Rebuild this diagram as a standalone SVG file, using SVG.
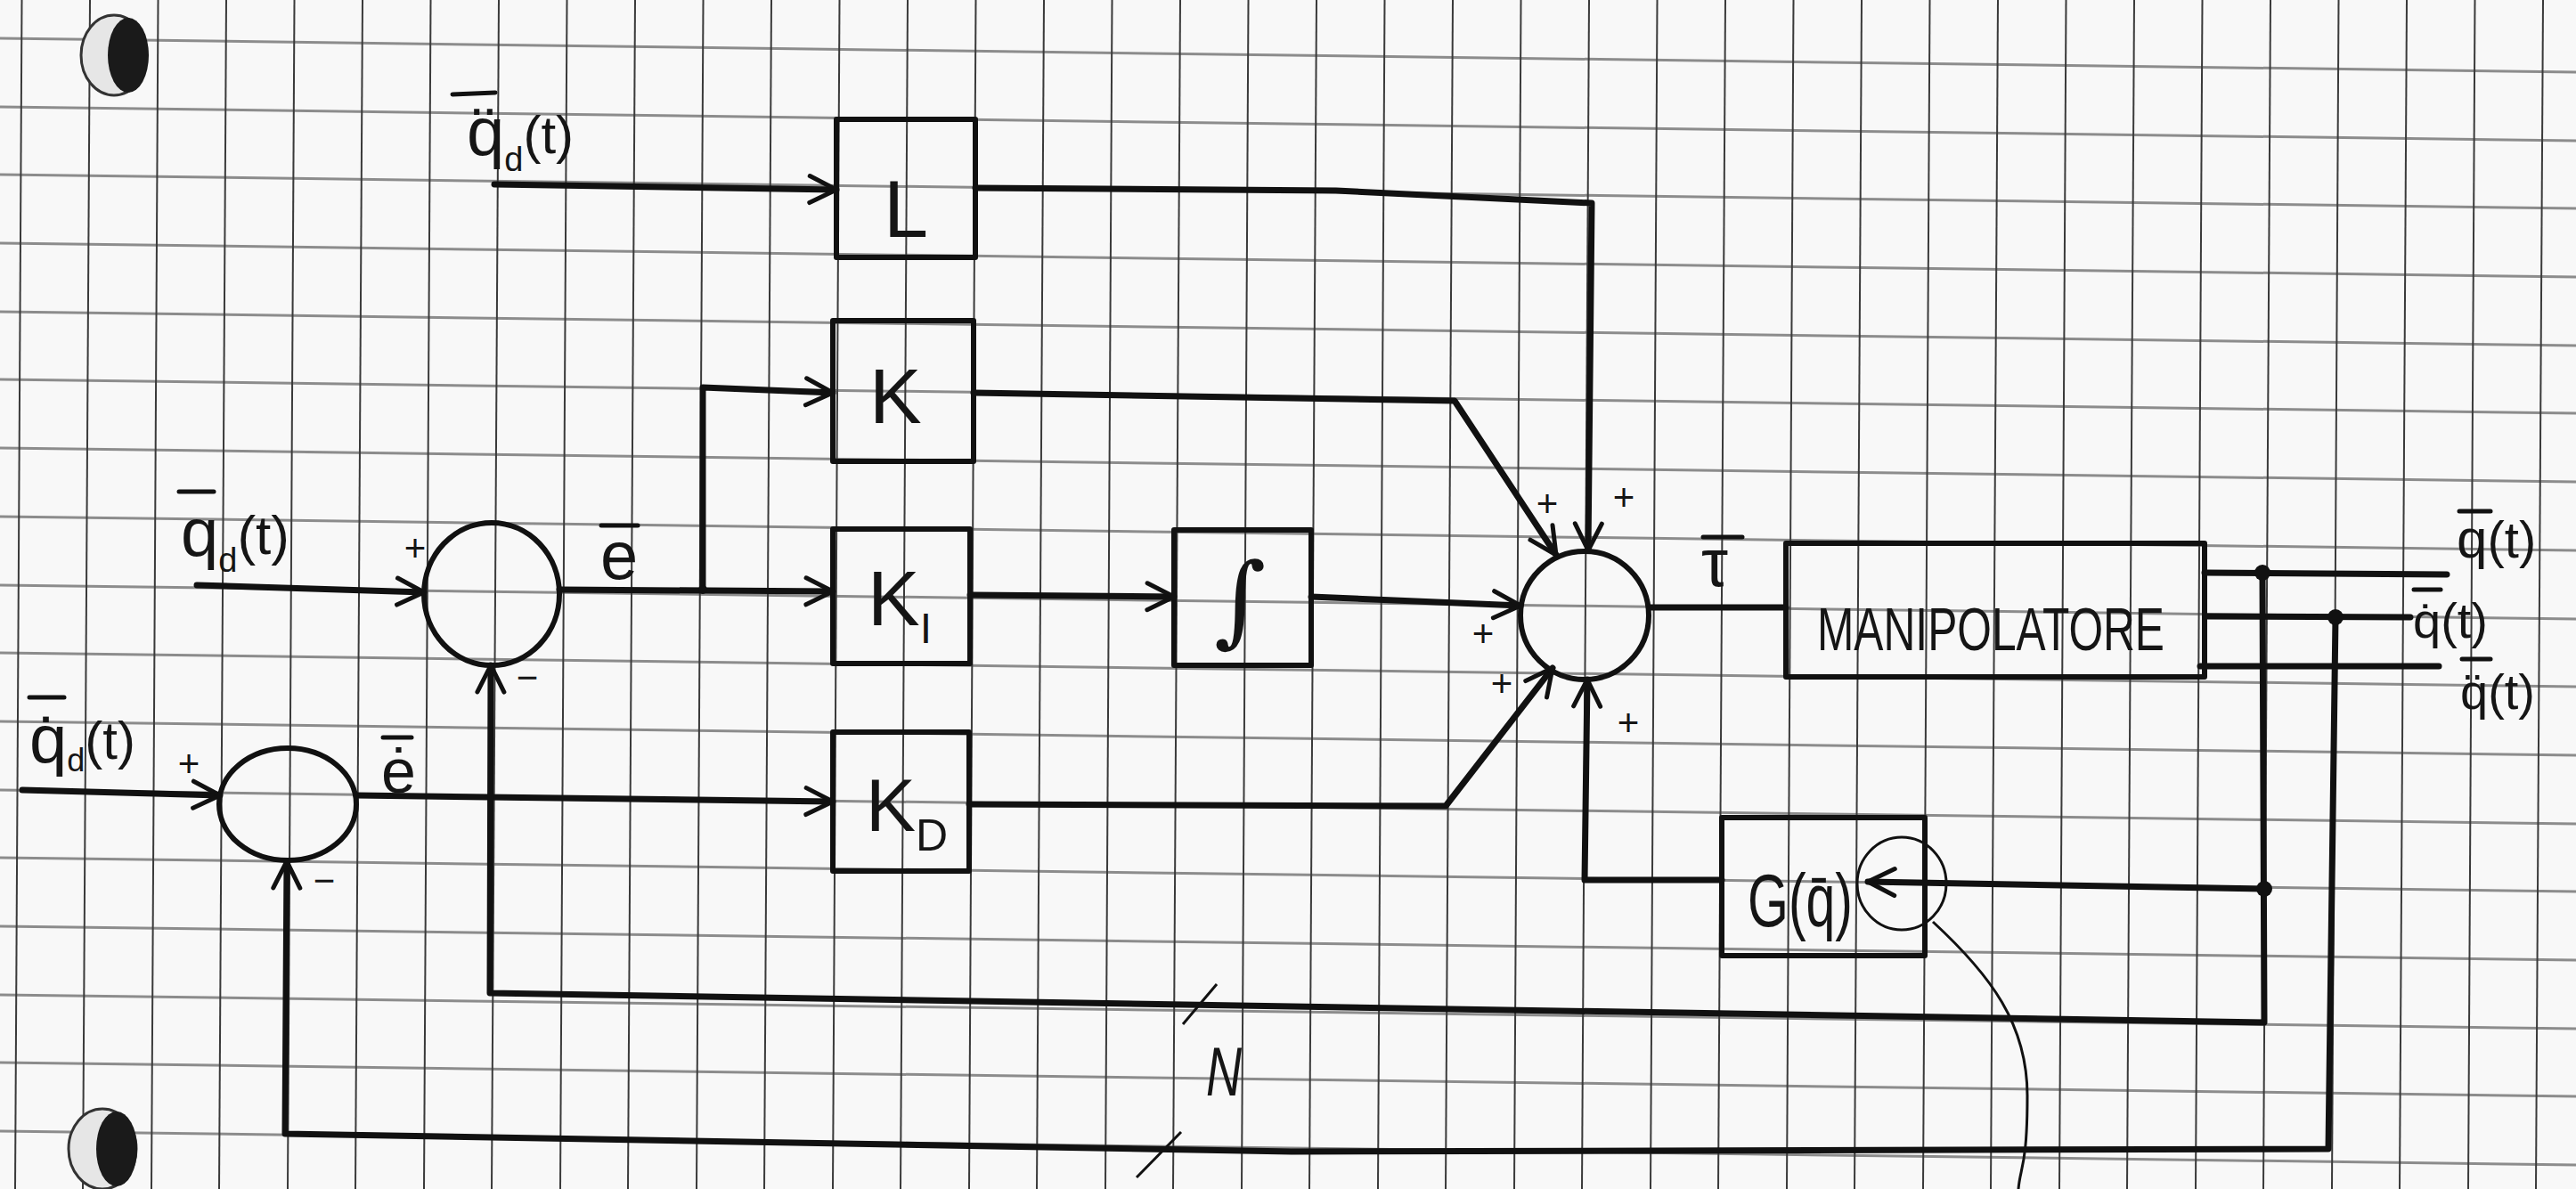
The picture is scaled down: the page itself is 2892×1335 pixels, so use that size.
<svg xmlns="http://www.w3.org/2000/svg" width="2892" height="1335" viewBox="0 0 2892 1335">
<defs>
<style>
.gv{stroke:#3a3a3a;stroke-width:2}
.gh{stroke:#8c8c8c;stroke-width:3}
.box{fill:none;stroke:#111;stroke-width:6;stroke-linejoin:round}
.wire{fill:none;stroke:#111;stroke-width:7;stroke-linejoin:round;stroke-linecap:round}
.thin{fill:none;stroke:#111;stroke-width:3}
.bar{stroke:#111;stroke-width:5;stroke-linecap:round}
.t{font-family:"Liberation Sans",Arial,sans-serif;fill:#151515}
.sg{font-family:"Liberation Sans",Arial,sans-serif;fill:#151515;font-size:42px;text-anchor:middle}
.dot{fill:#111}
</style>
<marker id="ah" viewBox="-36 -20 40 40" markerWidth="40" markerHeight="40" refX="0" refY="0" orient="auto" markerUnits="userSpaceOnUse">
<path d="M-30,-15 L0,0 L-30,15" fill="none" stroke="#111" stroke-width="5" stroke-linecap="round" stroke-linejoin="round"/>
</marker>
</defs>
<rect width="2892" height="1335" fill="#f8f8f8"/>
<g id="grid">
<line class="gh" x1="0" y1="43" x2="2892" y2="81"/>
<line class="gh" x1="0" y1="120" x2="2892" y2="158"/>
<line class="gh" x1="0" y1="196" x2="2892" y2="234"/>
<line class="gh" x1="0" y1="273" x2="2892" y2="311"/>
<line class="gh" x1="0" y1="350" x2="2892" y2="388"/>
<line class="gh" x1="0" y1="426" x2="2892" y2="464"/>
<line class="gh" x1="0" y1="503" x2="2892" y2="541"/>
<line class="gh" x1="0" y1="580" x2="2892" y2="618"/>
<line class="gh" x1="0" y1="657" x2="2892" y2="695"/>
<line class="gh" x1="0" y1="733" x2="2892" y2="771"/>
<line class="gh" x1="0" y1="810" x2="2892" y2="848"/>
<line class="gh" x1="0" y1="887" x2="2892" y2="925"/>
<line class="gh" x1="0" y1="963" x2="2892" y2="1001"/>
<line class="gh" x1="0" y1="1040" x2="2892" y2="1078"/>
<line class="gh" x1="0" y1="1117" x2="2892" y2="1155"/>
<line class="gh" x1="0" y1="1193" x2="2892" y2="1231"/>
<line class="gh" x1="0" y1="1270" x2="2892" y2="1308"/>
<line class="gv" x1="24.5" y1="0" x2="17" y2="1335"/>
<line class="gv" x1="101" y1="0" x2="93" y2="1335"/>
<line class="gv" x1="177.5" y1="0" x2="170" y2="1335"/>
<line class="gv" x1="254" y1="0" x2="246" y2="1335"/>
<line class="gv" x1="330.5" y1="0" x2="323" y2="1335"/>
<line class="gv" x1="407" y1="0" x2="399" y2="1335"/>
<line class="gv" x1="483.5" y1="0" x2="476" y2="1335"/>
<line class="gv" x1="560" y1="0" x2="552" y2="1335"/>
<line class="gv" x1="636.5" y1="0" x2="629" y2="1335"/>
<line class="gv" x1="713" y1="0" x2="705" y2="1335"/>
<line class="gv" x1="789.5" y1="0" x2="782" y2="1335"/>
<line class="gv" x1="866" y1="0" x2="858" y2="1335"/>
<line class="gv" x1="942.5" y1="0" x2="935" y2="1335"/>
<line class="gv" x1="1019" y1="0" x2="1011" y2="1335"/>
<line class="gv" x1="1095.5" y1="0" x2="1088" y2="1335"/>
<line class="gv" x1="1172" y1="0" x2="1164" y2="1335"/>
<line class="gv" x1="1248.5" y1="0" x2="1241" y2="1335"/>
<line class="gv" x1="1325" y1="0" x2="1317" y2="1335"/>
<line class="gv" x1="1401.5" y1="0" x2="1394" y2="1335"/>
<line class="gv" x1="1478" y1="0" x2="1470" y2="1335"/>
<line class="gv" x1="1554.5" y1="0" x2="1547" y2="1335"/>
<line class="gv" x1="1631" y1="0" x2="1623" y2="1335"/>
<line class="gv" x1="1707.5" y1="0" x2="1700" y2="1335"/>
<line class="gv" x1="1784" y1="0" x2="1776" y2="1335"/>
<line class="gv" x1="1860.5" y1="0" x2="1853" y2="1335"/>
<line class="gv" x1="1937" y1="0" x2="1929" y2="1335"/>
<line class="gv" x1="2013.5" y1="0" x2="2006" y2="1335"/>
<line class="gv" x1="2090" y1="0" x2="2082" y2="1335"/>
<line class="gv" x1="2166.5" y1="0" x2="2159" y2="1335"/>
<line class="gv" x1="2243" y1="0" x2="2235" y2="1335"/>
<line class="gv" x1="2319.5" y1="0" x2="2312" y2="1335"/>
<line class="gv" x1="2396" y1="0" x2="2388" y2="1335"/>
<line class="gv" x1="2472.5" y1="0" x2="2465" y2="1335"/>
<line class="gv" x1="2549" y1="0" x2="2541" y2="1335"/>
<line class="gv" x1="2625.5" y1="0" x2="2618" y2="1335"/>
<line class="gv" x1="2702" y1="0" x2="2694" y2="1335"/>
<line class="gv" x1="2778.5" y1="0" x2="2771" y2="1335"/>
<line class="gv" x1="2855" y1="0" x2="2847" y2="1335"/>
</g>
<g id="holes">
<ellipse cx="128" cy="62" rx="37" ry="45" fill="#e6e6e6" stroke="#333" stroke-width="3"/>
<ellipse cx="144" cy="62" rx="23" ry="42" fill="#1a1a1a"/>
<ellipse cx="115" cy="1290" rx="38" ry="45" fill="#e6e6e6" stroke="#333" stroke-width="3"/>
<ellipse cx="131" cy="1290" rx="23" ry="42" fill="#1a1a1a"/>
</g>
<g id="connectors">
<path class="wire" d="M555,207 L939,213" marker-end="url(#ah)"/>
<path class="wire" d="M1095,211 L1500,214 L1787,228 L1783,618" marker-end="url(#ah)"/>
<path class="wire" d="M789,662 L789,435 L935,441" marker-end="url(#ah)"/>
<path class="wire" d="M1093,441 L1633,450 L1747,623" marker-end="url(#ah)"/>
<path class="wire" d="M221,657 L476,665" marker-end="url(#ah)"/>
<path class="wire" d="M628,662 L935,664" marker-end="url(#ah)"/>
<path class="wire" d="M1089,668 L1318,670" marker-end="url(#ah)"/>
<path class="wire" d="M1472,670 L1707,680" marker-end="url(#ah)"/>
<path class="wire" d="M25,887 L247,893" marker-end="url(#ah)"/>
<path class="wire" d="M400,893 L935,900" marker-end="url(#ah)"/>
<path class="wire" d="M1088,903 L1623,905 L1743,750" marker-end="url(#ah)"/>
<path class="wire" d="M1852,682 L2005,682"/>
<path class="wire" d="M2475,643 L2747,645"/>
<path class="wire" d="M2478,692 L2706,693"/>
<path class="wire" d="M2470,748 L2738,748"/>
<path class="wire" d="M2540,643 L2542,1148 L550,1115 L551,747" marker-end="url(#ah)"/>
<path class="wire" d="M2622,693 L2614,1290 L1450,1293 L320,1273 L322,967" marker-end="url(#ah)"/>
<path class="wire" d="M2542,998 L2097,990" marker-end="url(#ah)"/>
<path class="wire" d="M1933,988 L1779,988 L1782,763" marker-end="url(#ah)"/>
<path class="thin" d="M1328,1150 L1366,1105"/>
<path class="thin" d="M1276,1322 L1326,1271"/>
<ellipse class="thin" cx="2135" cy="992" rx="50" ry="52"/>
<path class="thin" d="M2170,1035 C2235,1095 2276,1150 2276,1230 S2268,1310 2266,1335"/>
<circle class="dot" cx="2540" cy="643" r="9"/>
<circle class="dot" cx="2542" cy="998" r="9"/>
<circle class="dot" cx="2622" cy="693" r="9"/>
<circle class="dot" cx="789" cy="662" r="5"/>
</g>
<g id="sum-e">
<ellipse class="box" cx="552" cy="667" rx="76" ry="80"/>
<text class="sg" x="466" y="630" font-size="36">+</text>
<text class="sg" x="592" y="775">−</text>
</g>
<g id="sum-edot">
<ellipse class="box" cx="323" cy="903" rx="77" ry="63"/>
<text class="sg" x="212" y="872">+</text>
<text class="sg" x="364" y="1003">−</text>
</g>
<g id="sum-tau">
<circle class="box" cx="1779" cy="691" r="72"/>
<text class="sg" x="1737" y="580">+</text>
<text class="sg" x="1823" y="573">+</text>
<text class="sg" x="1665" y="726" font-size="32">+</text>
<text class="sg" x="1686" y="782">+</text>
<text class="sg" x="1828" y="826">+</text>
</g>
<g id="block-L">
<rect class="box" x="939" y="134" width="156" height="155"/>
<text class="t" x="992" y="266" font-size="90">L</text>
</g>
<g id="block-K">
<rect class="box" x="935" y="360" width="158" height="158"/>
<text class="t" x="976" y="475" font-size="88">K</text>
</g>
<g id="block-KI">
<rect class="box" x="935" y="594" width="154" height="151"/>
<text class="t" x="974" y="702" font-size="88">K<tspan font-size="48" dy="20">I</tspan></text>
</g>
<g id="block-int">
<rect class="box" x="1318" y="595" width="154" height="152"/>
<text x="1392" y="712" font-family="'DejaVu Serif',serif" font-size="112" text-anchor="middle" fill="#151515">∫</text>
</g>
<g id="block-KD">
<rect class="box" x="935" y="822" width="153" height="156"/>
<text class="t" x="972" y="933" font-size="84">K<tspan font-size="50" dy="22">D</tspan></text>
</g>
<g id="block-manipolatore">
<rect class="box" x="2005" y="610" width="470" height="150"/>
<text class="t" x="2040" y="730" font-size="68" textLength="390" lengthAdjust="spacingAndGlyphs">MANIPOLATORE</text>
</g>
<g id="block-G">
<rect class="box" x="1933" y="918" width="228" height="155"/>
<text class="t" x="1962" y="1040" font-size="84" textLength="118" lengthAdjust="spacingAndGlyphs">G(q̄)</text>
</g>
<g id="labels">
<line class="bar" x1="508" y1="106" x2="556" y2="104"/>
<text class="t" x="524" y="174" font-size="76">q̈<tspan font-size="38" dy="18">d</tspan><tspan font-size="60" dy="-20">(t)</tspan></text>
<line class="bar" x1="201" y1="552" x2="240" y2="552"/>
<text class="t" x="203" y="624" font-size="76">q<tspan font-size="38" dy="18">d</tspan><tspan font-size="62" dy="-20">(t)</tspan></text>
<line class="bar" x1="33" y1="783" x2="72" y2="783"/>
<text class="t" x="33" y="856" font-size="76">q̇<tspan font-size="36" dy="10">d</tspan><tspan font-size="60" dy="-14">(t)</tspan></text>
<line class="bar" x1="675" y1="590" x2="716" y2="590"/>
<text class="t" x="674" y="650" font-size="76">e</text>
<line class="bar" x1="430" y1="828" x2="462" y2="828"/>
<text class="t" x="428" y="890" font-size="70">ė</text>
<line class="bar" x1="1912" y1="603" x2="1956" y2="603"/>
<text class="t" x="1910" y="658" font-size="76">τ</text>
<line class="bar" x1="2761" y1="574" x2="2796" y2="574"/>
<text class="t" x="2758" y="626" font-size="62">q<tspan font-size="58">(t)</tspan></text>
<line class="bar" x1="2710" y1="662" x2="2740" y2="662"/>
<text class="t" x="2709" y="716" font-size="56">q̇(t)</text>
<line class="bar" x1="2764" y1="740" x2="2796" y2="740"/>
<text class="t" x="2762" y="796" font-size="56">q̈(t)</text>
<text class="t" x="1354" y="1230" font-size="78" font-style="italic" textLength="40" lengthAdjust="spacingAndGlyphs">N</text>
</g>
</svg>
